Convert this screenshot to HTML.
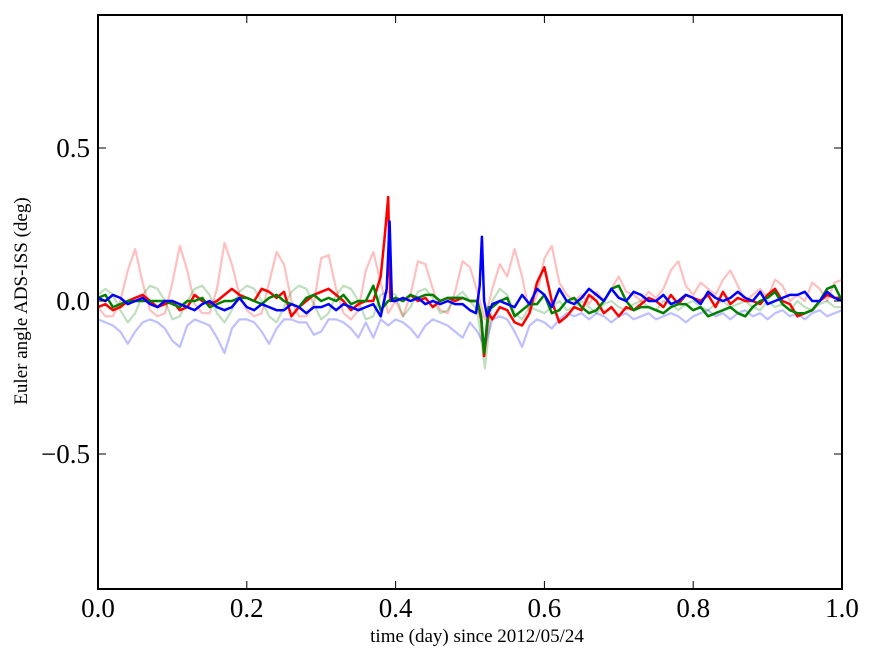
<!DOCTYPE html>
<html><head><meta charset="utf-8">
<style>
body{margin:0;background:#fff;}
svg{display:block;font-family:"Liberation Serif",serif;}
</style></head>
<body>
<svg id="chart" width="875" height="662" viewBox="0 0 875 662">
<g id="series"></g>
<g id="axes"></g>
<text x="477" y="642" font-size="19" text-anchor="middle">time (day) since 2012/05/24</text>
<text transform="translate(27,301) rotate(-90)" font-size="19" text-anchor="middle">Euler angle ADS-ISS (deg)</text>
</svg>
<script>
const xTicks=[0,0.2,0.4,0.6,0.8,1.0];
const xTickLabels=["0.0","0.2","0.4","0.6","0.8","1.0"];
const yTicks=[0.5,0,-0.5];
const yTickLabels=["0.5","0.0","\u22120.5"];
const gridX=[0,.01,.02,.03,.04,.05,.06,.07,.08,.09,.1,.11,.12,.13,.14,.15,.16,.17,.18,.19,.2,.21,.22,.23,.24,.25,.26,.27,.28,.29,.3,.31,.32,.33,.34,.35,.36,.37,.38,.39,.4,.41,.42,.43,.44,.45,.46,.47,.48,.49,.5,.51,.52,.53,.54,.55,.56,.57,.58,.59,.6,.61,.62,.63,.64,.65,.66,.67,.68,.69,.7,.71,.72,.73,.74,.75,.76,.77,.78,.79,.8,.81,.82,.83,.84,.85,.86,.87,.88,.89,.9,.91,.92,.93,.94,.95,.96,.97,.98,.99,1.0];
const faintRed=[-0.02,-0.05,-0.05,0.0,0.1,0.17,0.06,-0.03,-0.05,-0.04,0.06,0.18,0.1,-0.01,-0.04,-0.04,0.04,0.19,0.12,0.02,-0.03,-0.05,-0.04,0.06,0.16,0.12,0.0,-0.05,-0.05,-0.01,0.14,0.15,0.04,-0.04,-0.06,-0.03,0.1,0.16,0.06,-0.04,0.0,-0.05,0.02,0.13,0.12,0.04,-0.03,-0.04,0.03,0.13,0.11,0.03,-0.06,0.04,0.12,0.08,0.17,0.08,-0.04,0.02,0.14,0.18,0.06,0.02,0.0,0.02,-0.01,0.03,0.0,0.04,0.08,0.03,0.02,0.0,0.03,0.01,0.04,0.1,0.13,0.05,0.02,0.06,0.04,0.02,0.07,0.1,0.05,0.0,0.02,0.04,0.01,0.07,0.05,0.0,0.02,0.0,0.06,0.04,0.0,0.06,0.07];
const faintBlue=[-0.06,-0.07,-0.08,-0.1,-0.14,-0.1,-0.07,-0.06,-0.07,-0.09,-0.13,-0.15,-0.08,-0.06,-0.07,-0.08,-0.12,-0.17,-0.09,-0.06,-0.06,-0.07,-0.1,-0.14,-0.09,-0.06,-0.06,-0.07,-0.07,-0.11,-0.1,-0.06,-0.06,-0.07,-0.09,-0.12,-0.07,-0.12,-0.06,-0.08,-0.06,-0.07,-0.09,-0.12,-0.08,-0.06,-0.07,-0.08,-0.1,-0.12,-0.07,-0.1,-0.15,-0.06,-0.05,-0.06,-0.1,-0.15,-0.08,-0.06,-0.07,-0.09,-0.06,-0.04,-0.05,-0.04,-0.06,-0.04,-0.05,-0.07,-0.05,-0.04,-0.06,-0.05,-0.04,-0.06,-0.05,-0.04,-0.05,-0.07,-0.05,-0.04,-0.03,-0.05,-0.04,-0.06,-0.04,-0.03,-0.05,-0.04,-0.06,-0.04,-0.03,-0.05,-0.04,-0.06,-0.04,-0.03,-0.05,-0.04,-0.03];
const faintGreen=[0.02,0.04,0.02,-0.03,-0.07,-0.04,0.02,0.05,0.04,0.0,-0.06,-0.05,0.0,0.04,0.05,0.02,-0.04,-0.07,-0.03,0.03,0.05,0.04,0.0,-0.05,-0.07,-0.02,0.03,0.05,0.04,-0.01,-0.06,-0.04,0.02,0.05,0.04,0.0,-0.06,-0.05,0.02,0.03,0.02,-0.05,-0.02,0.03,0.04,0.01,-0.04,-0.03,0.01,0.03,0.0,-0.03,-0.22,0.0,0.04,0.02,-0.04,-0.06,-0.02,-0.03,-0.04,-0.02,0.0,-0.03,-0.02,0.0,-0.02,-0.04,-0.01,0.0,-0.02,-0.03,-0.01,0.0,-0.02,-0.03,0.0,-0.01,-0.03,-0.01,0.0,-0.02,-0.03,-0.01,0.0,-0.02,-0.01,0.0,-0.02,-0.03,0.0,-0.02,-0.01,-0.03,0.0,-0.02,-0.03,-0.01,0.0,-0.02,-0.02];
const redX=[0,.01,.02,.03,.04,.05,.06,.07,.08,.09,.1,.11,.12,.13,.14,.15,.16,.17,.18,.19,.2,.21,.22,.23,.24,.25,.26,.27,.28,.29,.3,.31,.32,.33,.34,.35,.36,.37,.38,.385,.39,.393,.4,.41,.42,.43,.44,.45,.46,.47,.48,.49,.5,.51,.515,.519,.525,.53,.54,.55,.56,.57,.58,.59,.6,.61,.62,.63,.64,.65,.66,.67,.68,.69,.7,.71,.72,.73,.74,.75,.76,.77,.78,.79,.8,.81,.82,.83,.84,.85,.86,.87,.88,.89,.9,.91,.92,.93,.94,.95,.96,.97,.98,.99,1.0];
const redY=[-0.02,-0.01,-0.03,-0.02,0.0,0.01,0.02,0.0,-0.02,-0.01,0.0,-0.03,-0.02,0.02,0.0,-0.01,0.0,0.02,0.04,0.02,0.01,0.0,0.04,0.03,0.01,0.03,-0.05,-0.02,0.0,0.02,0.03,0.04,0.02,0.0,-0.03,-0.01,0.0,0.0,0.08,0.2,0.34,0.0,0.01,0.0,0.02,0.0,0.01,-0.02,0.0,0.01,0.0,0.01,0.0,0.0,-0.06,-0.18,-0.04,-0.06,-0.02,-0.03,-0.07,-0.08,-0.04,0.06,0.11,0.0,-0.07,-0.05,-0.02,-0.03,0.02,0.0,-0.04,-0.02,-0.05,-0.02,-0.03,-0.01,0.01,0.0,-0.02,0.02,-0.01,0.02,0.01,0.0,0.02,-0.02,0.03,-0.01,0.01,0.0,0.0,-0.01,0.02,0.04,0.0,-0.01,-0.05,-0.04,-0.03,0.0,0.02,0.01,0.01];
const blueX=[0,.01,.02,.03,.04,.05,.06,.07,.08,.09,.1,.11,.12,.13,.14,.15,.16,.17,.18,.19,.2,.21,.22,.23,.24,.25,.26,.27,.28,.29,.3,.31,.32,.33,.34,.35,.36,.37,.38,.388,.392,.395,.4,.41,.42,.43,.44,.45,.46,.47,.48,.49,.5,.508,.513,.516,.519,.523,.53,.54,.55,.56,.57,.58,.59,.6,.61,.62,.63,.64,.65,.66,.67,.68,.69,.7,.71,.72,.73,.74,.75,.76,.77,.78,.79,.8,.81,.82,.83,.84,.85,.86,.87,.88,.89,.9,.91,.92,.93,.94,.95,.96,.97,.98,.99,1.0];
const blueY=[0.01,0.0,0.02,0.01,-0.01,0.0,0.01,-0.01,-0.02,0.0,0.0,-0.01,-0.02,-0.03,-0.01,0.0,-0.02,-0.03,-0.02,0.01,-0.02,-0.03,-0.01,-0.02,-0.03,-0.03,-0.01,-0.02,-0.04,-0.02,-0.02,-0.01,-0.03,-0.01,-0.02,-0.03,-0.02,-0.01,-0.05,0.04,0.26,0.0,0.0,0.01,0.0,0.01,-0.01,0.0,-0.01,0.0,-0.01,-0.01,-0.03,-0.04,0.05,0.21,0.0,-0.05,-0.01,0.0,-0.01,-0.02,0.02,-0.01,0.04,0.02,-0.02,0.04,0.0,-0.01,0.01,0.04,0.02,0.0,0.04,0.01,0.0,0.03,0.02,0.0,0.0,0.02,-0.01,0.0,0.02,0.01,-0.01,0.03,0.01,0.0,0.01,0.03,0.01,0.0,0.03,-0.01,0.0,0.01,0.02,0.02,0.03,0.0,0.0,0.03,0.01,0.0];
const greenX=[0,.01,.02,.03,.04,.05,.06,.07,.08,.09,.1,.11,.12,.13,.14,.15,.16,.17,.18,.19,.2,.21,.22,.23,.24,.25,.26,.27,.28,.29,.3,.31,.32,.33,.34,.35,.36,.37,.38,.39,.4,.41,.42,.43,.44,.45,.46,.47,.48,.49,.5,.51,.515,.519,.525,.53,.54,.55,.56,.57,.58,.59,.6,.61,.62,.63,.64,.65,.66,.67,.68,.69,.7,.71,.72,.73,.74,.75,.76,.77,.78,.79,.8,.81,.82,.83,.84,.85,.86,.87,.88,.89,.9,.91,.92,.93,.94,.95,.96,.97,.98,.99,1.0];
const greenY=[0.01,0.02,-0.02,-0.01,0.0,0.0,0.0,0.0,0.0,0.0,-0.01,-0.02,0.0,0.0,0.01,-0.02,-0.01,0.0,0.0,0.01,0.01,0.0,-0.01,0.01,0.02,0.0,-0.01,-0.02,0.01,0.02,0.0,0.01,0.0,0.02,-0.01,0.0,0.0,0.05,-0.03,0.0,0.01,0.0,0.02,0.01,0.02,0.02,0.0,0.01,0.01,0.01,0.0,0.0,-0.05,-0.17,-0.02,-0.02,0.0,0.01,-0.05,-0.03,-0.01,-0.01,0.02,-0.04,-0.03,0.0,0.01,-0.02,-0.04,-0.03,0.0,0.04,0.05,0.0,-0.03,-0.02,-0.02,-0.03,-0.04,-0.02,-0.01,-0.01,-0.03,-0.02,-0.05,-0.04,-0.03,-0.02,-0.04,-0.05,-0.02,0.0,0.01,0.03,-0.01,-0.03,-0.04,-0.04,-0.03,0.0,0.04,0.05,0.0,-0.03,-0.06];

const X0=98,X1=842,Y0=15,Y1=589;
const xS=v=>X0+(X1-X0)*v;
const yS=v=>301-306*v;
const NS="http://www.w3.org/2000/svg";
const sg=document.getElementById('series');
function line(xs,ys,color,op,w,name){
  const p=document.createElementNS(NS,'polyline');
  p.setAttribute('points',xs.map((x,i)=>xS(x).toFixed(1)+','+yS(ys[i]).toFixed(1)).join(' '));
  p.setAttribute('fill','none');p.setAttribute('stroke',color);
  p.setAttribute('stroke-opacity',op);p.setAttribute('stroke-width',w);
  p.setAttribute('stroke-linejoin','round');
  
  
  sg.appendChild(p);
}
line(gridX,faintRed,'#ff0000',0.25,2.2,'faint-red-series');
line(gridX,faintGreen,'#008000',0.25,2.2,'faint-green-series');
line(gridX,faintBlue,'#0000ff',0.25,2.2,'faint-blue-series');
line(redX,redY,'#ff0000',1,2.5,'red-series');
line(greenX,greenY,'#008000',1,2.5,'green-series');
line(blueX,blueY,'#0000ff',1,2.5,'blue-series');

const ax=document.getElementById('axes');
const fr=document.createElementNS(NS,'rect');
fr.setAttribute('x',X0);fr.setAttribute('y',Y0);fr.setAttribute('width',X1-X0);fr.setAttribute('height',Y1-Y0);
fr.setAttribute('fill','none');fr.setAttribute('stroke','#000');fr.setAttribute('stroke-width','2');


ax.appendChild(fr);
function seg(x1,y1,x2,y2,name){
  const l=document.createElementNS(NS,'line');
  l.setAttribute('x1',x1);l.setAttribute('y1',y1);l.setAttribute('x2',x2);l.setAttribute('y2',y2);
  l.setAttribute('stroke','#000');l.setAttribute('stroke-width','1');
  
  
  ax.appendChild(l);
}
function txt(x,y,s,anchor,name){
  const t=document.createElementNS(NS,'text');
  t.setAttribute('x',x);t.setAttribute('y',y);t.setAttribute('font-size','27');
  t.setAttribute('text-anchor',anchor);t.textContent=s;
  
  
  ax.appendChild(t);
}
xTicks.forEach((v,i)=>{
  const x=xS(v);
  seg(x,Y1,x,Y1-8,'x-tick');seg(x,Y0,x,Y0+8,'x-tick-top');
  txt(x,Y1+28,xTickLabels[i],'middle','x-tick-label');
});
yTicks.forEach((v,i)=>{
  const y=yS(v);
  seg(X0,y,X0+8,y,'y-tick');seg(X1,y,X1-8,y,'y-tick-right');
  txt(X0-8,y+9,yTickLabels[i],'end','y-tick-label');
});
</script>
</body></html>
